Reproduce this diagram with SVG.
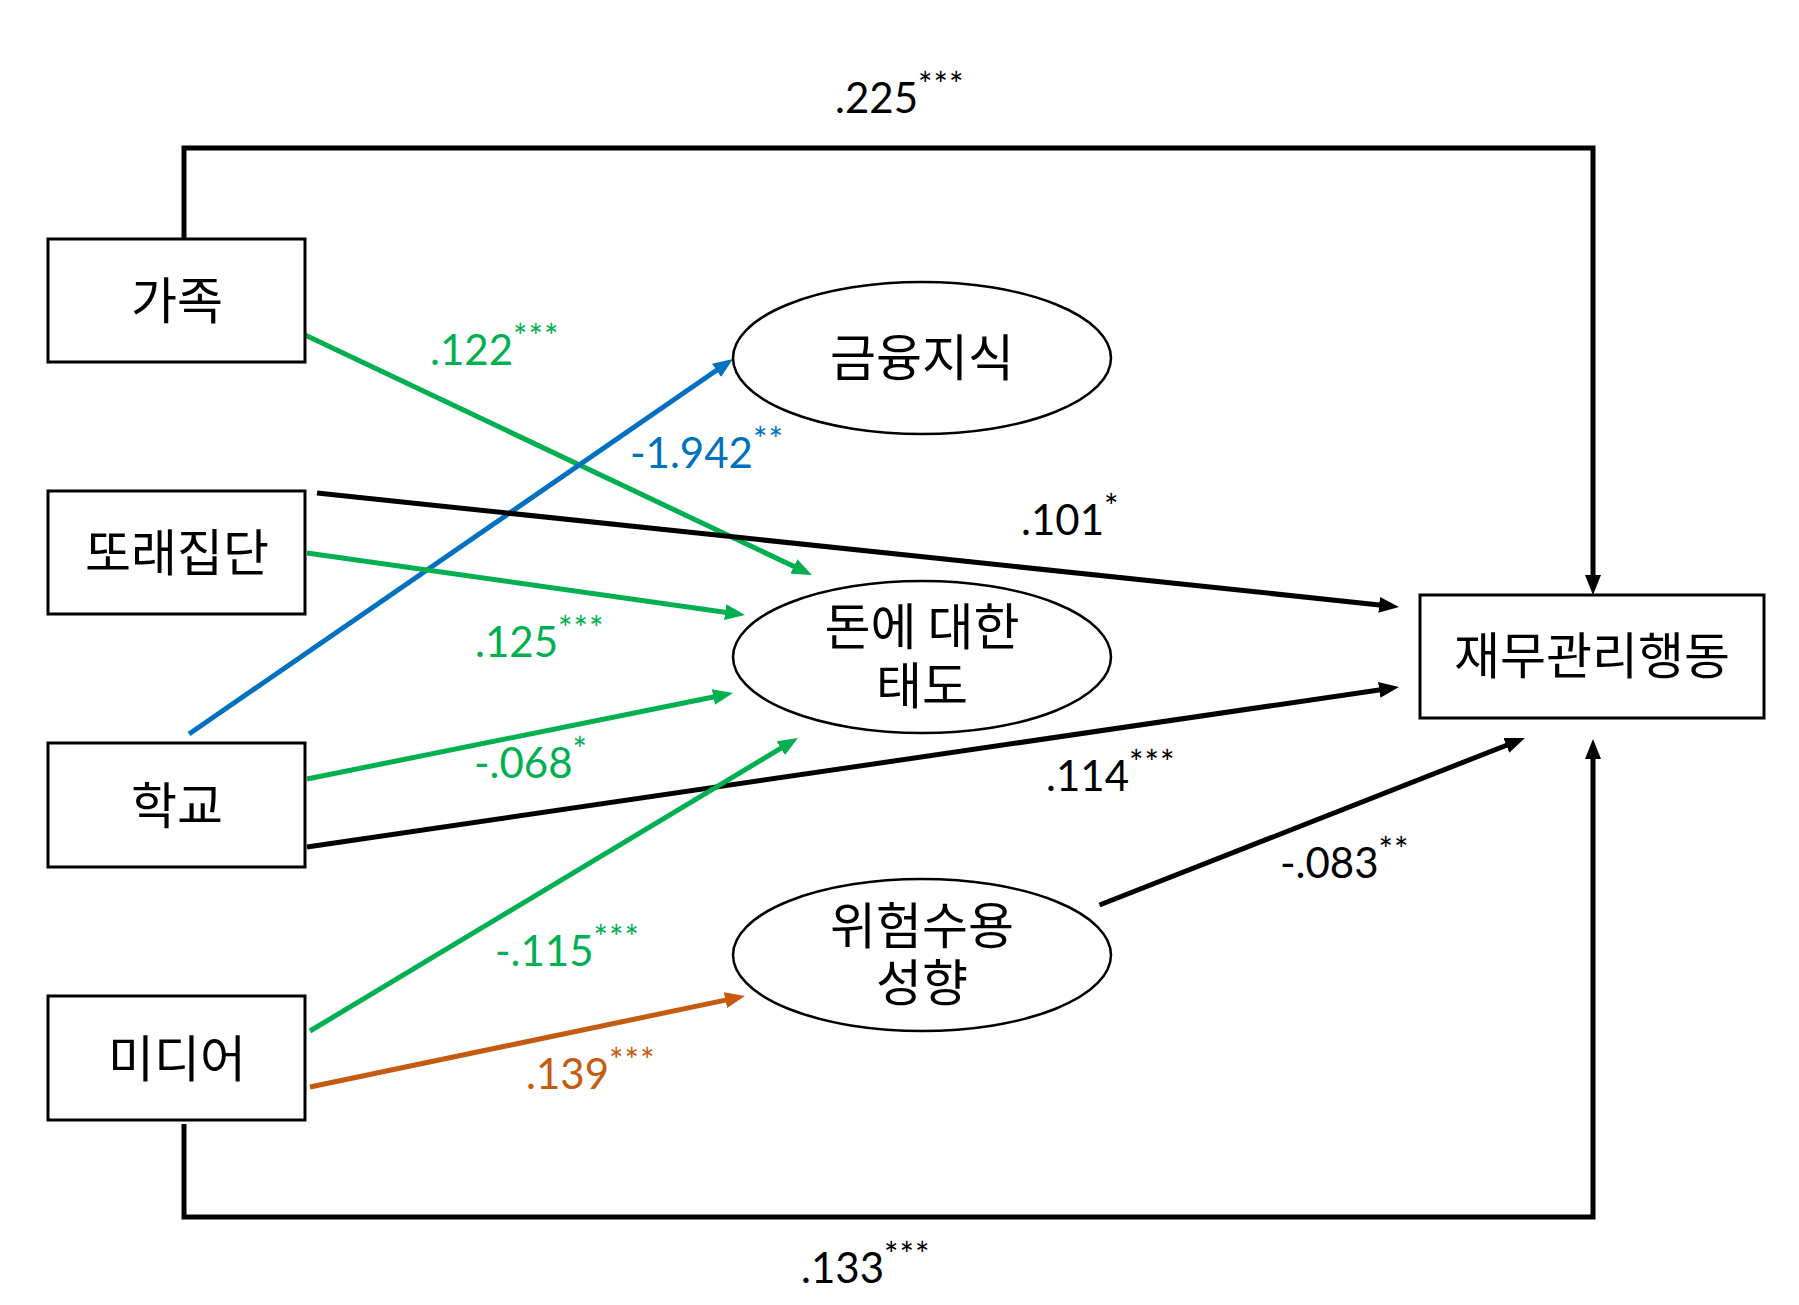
<svg xmlns="http://www.w3.org/2000/svg" width="1799" height="1305" viewBox="0 0 1799 1305">
<style>
.box{fill:#fff;stroke:#000;stroke-width:3}
.ell{fill:#fff;stroke:#000;stroke-width:2.5}
.kr{font-family:"Noto Sans CJK KR","Noto Sans",sans-serif;font-size:50px;fill:#000;text-anchor:middle}
.lbl{font-family:Lato,"Open Sans",sans-serif;font-size:42px}
.sup{font-size:34px;letter-spacing:1px}
.ln{fill:none;stroke-width:5}
.k{stroke:#000}.g{stroke:#00B050}.b{stroke:#0070C0}.o{stroke:#C55A11}
.tk{fill:#000}.tg{fill:#00B050}.tb{fill:#0070C0}.to{fill:#C55A11}
</style>
<defs>
<marker id="ak" markerUnits="userSpaceOnUse" markerWidth="20" markerHeight="16" refX="5" refY="8" orient="auto"><path d="M0,0 L20,8 L0,16 z" fill="#000"/></marker>
<marker id="ag" markerUnits="userSpaceOnUse" markerWidth="20" markerHeight="16" refX="5" refY="8" orient="auto"><path d="M0,0 L20,8 L0,16 z" fill="#00B050"/></marker>
<marker id="ab" markerUnits="userSpaceOnUse" markerWidth="20" markerHeight="16" refX="5" refY="8" orient="auto"><path d="M0,0 L20,8 L0,16 z" fill="#0070C0"/></marker>
<marker id="ao" markerUnits="userSpaceOnUse" markerWidth="20" markerHeight="16" refX="5" refY="8" orient="auto"><path d="M0,0 L20,8 L0,16 z" fill="#C55A11"/></marker>
</defs>
<rect width="1799" height="1305" fill="#fff"/>
<g id="connectors">
<path class="ln k" d="M184,239 V148 H1593 V580" marker-end="url(#ak)"/>
<path class="ln k" d="M184,1124 V1217 H1593 V754" marker-end="url(#ak)"/>
<line class="ln g" x1="305" y1="335" x2="798.4" y2="568.6" marker-end="url(#ag)"/>
<line class="ln b" x1="189" y1="734" x2="720.6" y2="367.5" marker-end="url(#ab)"/>
<line class="ln k" x1="317" y1="493" x2="1384.1" y2="605.4" marker-end="url(#ak)"/>
<line class="ln g" x1="307" y1="553" x2="730.2" y2="612.9" marker-end="url(#ag)"/>
<line class="ln g" x1="307" y1="779" x2="718.3" y2="696" marker-end="url(#ag)"/>
<line class="ln k" x1="307" y1="847" x2="1384.2" y2="689.2" marker-end="url(#ak)"/>
<line class="ln g" x1="310" y1="1031" x2="785.1" y2="745.7" marker-end="url(#ag)"/>
<line class="ln o" x1="310" y1="1087" x2="730.3" y2="999.1" marker-end="url(#ao)"/>
<line class="ln k" x1="1099.5" y1="905" x2="1511" y2="743.5" marker-end="url(#ak)"/>
</g>
<g id="labels">
<text class="lbl tk" x="835" y="113">.225<tspan class="sup" dy="-16">***</tspan></text>
<text class="lbl tg" x="430" y="365">.122<tspan class="sup" dy="-16">***</tspan></text>
<text class="lbl tb" x="630" y="468">-1.942<tspan class="sup" dy="-16">**</tspan></text>
<text class="lbl tk" x="1021" y="535">.101<tspan class="sup" dy="-16">*</tspan></text>
<text class="lbl tg" x="475" y="657">.125<tspan class="sup" dy="-16">***</tspan></text>
<text class="lbl tg" x="474" y="778">-.068<tspan class="sup" dy="-16">*</tspan></text>
<text class="lbl tk" x="1046" y="791">.114<tspan class="sup" dy="-16">***</tspan></text>
<text class="lbl tk" x="1280" y="878">-.083<tspan class="sup" dy="-16">**</tspan></text>
<text class="lbl tg" x="495" y="966">-.115<tspan class="sup" dy="-16">***</tspan></text>
<text class="lbl to" x="526" y="1089">.139<tspan class="sup" dy="-16">***</tspan></text>
<text class="lbl tk" x="801" y="1283">.133<tspan class="sup" dy="-16">***</tspan></text>
</g>
<g id="family"><rect class="box" x="48" y="239" width="257" height="123"/><text class="kr" x="177" y="319">가족</text></g>
<g id="peer"><rect class="box" x="48" y="491" width="257" height="123"/><text class="kr" x="177" y="571">또래집단</text></g>
<g id="school"><rect class="box" x="48" y="743" width="257" height="124"/><text class="kr" x="177" y="824">학교</text></g>
<g id="media"><rect class="box" x="48" y="996" width="257" height="124"/><text class="kr" x="177" y="1077">미디어</text></g>
<g id="behavior"><rect class="box" x="1420" y="595" width="344" height="123"/><text class="kr" x="1592" y="674">재무관리행동</text></g>
<g id="knowledge"><ellipse class="ell" cx="922" cy="358" rx="189" ry="76"/><text class="kr" x="922" y="376">금융지식</text></g>
<g id="attitude"><ellipse class="ell" cx="922" cy="657" rx="189" ry="76"/><text class="kr"><tspan x="922" y="645">돈에 대한</tspan><tspan x="922" y="704">태도</tspan></text></g>
<g id="risk"><ellipse class="ell" cx="922" cy="955" rx="189" ry="76"/><text class="kr"><tspan x="922" y="944">위험수용</tspan><tspan x="922" y="1001">성향</tspan></text></g>
</svg>
